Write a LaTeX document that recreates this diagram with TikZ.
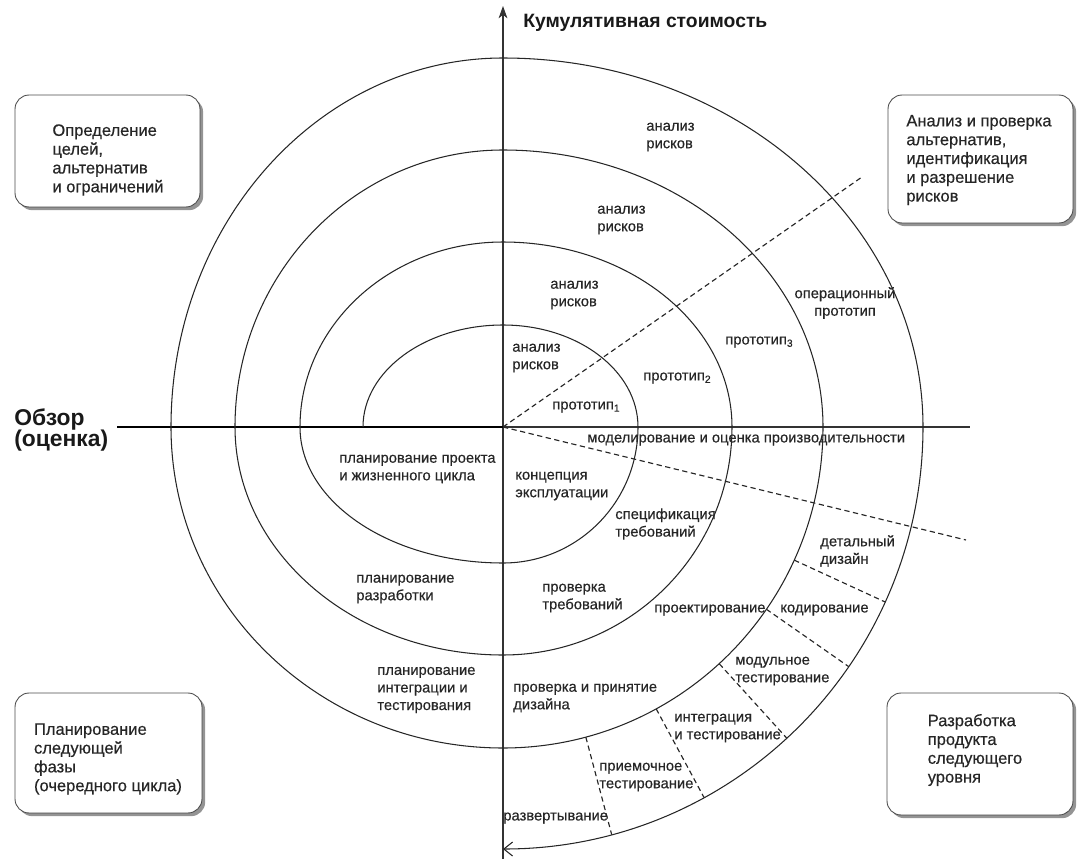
\documentclass[tikz,border=0pt]{standalone}
\usepackage{fontspec}
\setmainfont{Liberation Sans}
\newfontfamily\lblfont[FakeBold=0.4]{Liberation Sans}
\usetikzlibrary{arrows.meta,calc,shadows}
\begin{document}
\begin{tikzpicture}[x=0.02cm,y=-0.02cm,
  lbl/.style={inner sep=0pt, anchor=west, align=left, text=black!85, font=\lblfont\fontsize{8.4}{10}\selectfont},
  boxtxt/.style={inner sep=0pt, align=left, text=black!85, font=\lblfont\fontsize{9.4}{10.7}\selectfont},
  phasebox/.style={draw=black!70, line width=0.5pt, fill=white, rounded corners=8pt, inner sep=0pt,
     drop shadow={shadow xshift=1.8pt, shadow yshift=-1.8pt, opacity=0.6, fill=black!70}},
  spiral/.style={draw=black!85, line width=0.6pt},
  dashline/.style={draw=black!85, line width=0.65pt, dash pattern=on 3pt off 2pt},
  axisline/.style={draw=black!80, line width=0.6pt}
]
\useasboundingbox (0,0) rectangle (1083,859);
\coordinate (c) at (503,427);
\coordinate (axbot) at (503,859);
\coordinate (axtop) at (503,6);
\coordinate (hleft) at (117,427);
\coordinate (hright) at (970,427);
\coordinate (d1) at (862,177);
\coordinate (d2) at (966,540);
\coordinate (s0) at (363,427);

% phase boxes
\node[phasebox, minimum width=3.7cm, minimum height=2.24cm] (tlbox) at (107.5,151) {};
\node[phasebox, minimum width=3.7cm, minimum height=2.56cm] (trbox) at (980.5,159) {};
\node[phasebox, minimum width=3.74cm, minimum height=2.4cm] (blbox) at (108.5,753) {};
\node[phasebox, minimum width=3.72cm, minimum height=2.44cm] (brbox) at (980,754) {};
\node[boxtxt] (tltxt) at (108,160) {Определение\\целей,\\альтернатив\\и ограничений};
\node[boxtxt] (trtxt) at (979,160) {Анализ и проверка\\альтернатив,\\идентификация\\и разрешение\\рисков};
\node[boxtxt] (bltxt) at (108,759) {Планирование\\следующей\\фазы\\(очередного цикла)};
\node[boxtxt] (brtxt) at (975,750) {Разработка\\продукта\\следующего\\уровня};

% axes
\draw[axisline, -{Stealth[length=7pt,width=5pt,inset=2pt]}] (axbot) -- (axtop);
\draw[black, line width=1.7pt] (hleft) -- (c);
\draw[axisline] (c) -- (hright);

% spiral
\draw[spiral, -{Straight Barb[length=5pt,width=8pt]}] (s0)
  arc[start angle=180, end angle=270, x radius=140, y radius=102]
  arc[start angle=270, end angle=360, x radius=135, y radius=102]
  arc[start angle=0,   end angle=90,  x radius=135, y radius=136]
  arc[start angle=90,  end angle=180, x radius=203, y radius=136]
  arc[start angle=180, end angle=270, x radius=203, y radius=185]
  arc[start angle=270, end angle=360, x radius=229, y radius=185]
  arc[start angle=0,   end angle=90,  x radius=229, y radius=228]
  arc[start angle=90,  end angle=180, x radius=268, y radius=228]
  arc[start angle=180, end angle=270, x radius=268, y radius=277]
  arc[start angle=270, end angle=360, x radius=320, y radius=277]
  arc[start angle=0,   end angle=90,  x radius=320, y radius=321]
  arc[start angle=90,  end angle=180, x radius=332, y radius=321]
  arc[start angle=180, end angle=270, x radius=332, y radius=369]
  arc[start angle=270, end angle=360, x radius=420, y radius=369]
  arc[start angle=0,   end angle=90,  x radius=420, y radius=422];

% dashed lines
\draw[dashline] (c) -- (d1);
\draw[dashline] (c) -- (d2);
\foreach \a [count=\i] in {24.5,34.6,47.5,61.4,75} {
  \coordinate (ri\i) at ($(c)+({320*cos(\a)},{321*sin(\a)})$);
  \coordinate (ro\i) at ($(c)+({420*cos(\a)},{422*sin(\a)})$);
  \draw[dashline] (ri\i) -- (ro\i);
}

% titles
\node[inner sep=0pt, anchor=west, text=black!90, font=\fontsize{11}{12}\selectfont\bfseries] (cost) at (523,23) {Кумулятивная стоимость};
\node[inner sep=0pt, anchor=west, align=left, text=black!90, font=\fontsize{13}{12.5}\selectfont\bfseries] (review) at (14,430) {Обзор\\(оценка)};

% labels
\node[lbl] (ar4) at (646,137) {анализ\\рисков};
\node[lbl] (ar3) at (597,220) {анализ\\рисков};
\node[lbl] (ar2) at (550,295) {анализ\\рисков};
\node[lbl] (ar1) at (512,358) {анализ\\рисков};
\node[lbl] (p1) at (552,407) {прототип\textsubscript{1}};
\node[lbl] (p2) at (643,378) {прототип\textsubscript{2}};
\node[lbl] (p3) at (725,342) {прототип\textsubscript{3}};
\node[lbl, anchor=center, align=center] (op) at (845,303) {операционный\\прототип};
\node[lbl] (mod) at (587,440) {моделирование и оценка производительности};
\node[lbl] (konc) at (515,486) {концепция\\эксплуатации};
\node[lbl] (spec) at (615,524) {спецификация\\требований};
\node[lbl] (det) at (820,551) {детальный\\дизайн};
\node[lbl] (prt) at (542,598) {проверка\\требований};
\node[lbl] (proj) at (654,610) {проектирование};
\node[lbl] (kod) at (780,610) {кодирование};
\node[lbl] (modt) at (735,671) {модульное\\тестирование};
\node[lbl] (ppd) at (513,698) {проверка и принятие\\дизайна};
\node[lbl] (int) at (674,728) {интеграция\\и тестирование};
\node[lbl] (pri) at (599,777) {приемочное\\тестирование};
\node[lbl] (razv) at (503,818) {развертывание};
\node[lbl] (pl1) at (339,469) {планирование проекта\\и жизненного цикла};
\node[lbl] (pl2) at (356,589) {планирование\\разработки};
\node[lbl] (pl3) at (377,690) {планирование\\интеграции и\\тестирования};
\end{tikzpicture}
\end{document}
